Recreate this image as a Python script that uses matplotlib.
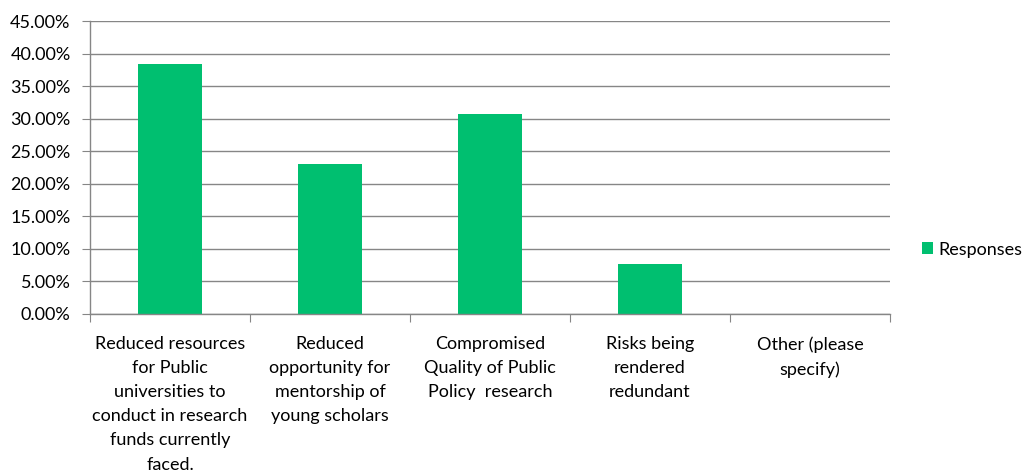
import matplotlib.pyplot as plt
import numpy as np
from matplotlib.ticker import FuncFormatter

categories = [
    'Reduced resources\nfor Public\nuniversities to\nconduct in research\nfunds currently\nfaced.',
    'Reduced\nopportunity for\nmentorship of\nyoung scholars',
    'Compromised\nQuality of Public\nPolicy  research',
    'Risks being\nrendered\nredundant',
    'Other (please\nspecify)',
]
responses = [38.46, 23.08, 30.77, 7.69, 0.0]
series_name = 'Responses'

plt.rcParams['font.family'] = ['Lato', 'DejaVu Sans']
fontsize = 13
grid_col = '#868686'
bar_col = '#00BF70'

fig = plt.figure(figsize=(10.31, 4.76), dpi=100)
ax = fig.add_axes([90 / 1031, 1 - 314 / 476, 800 / 1031, 293 / 476])

x = np.arange(len(categories))
ax.bar(x, responses, width=0.4, color=bar_col, label=series_name, zorder=3)

ax.set_xlim(-0.5, len(categories) - 0.5)
ax.set_ylim(0, 45)
ax.set_yticks(np.arange(0, 46, 5))
ax.yaxis.set_major_formatter(FuncFormatter(lambda v, p: f'{v:.2f}%'))
ax.grid(axis='y', color=grid_col, linewidth=1, zorder=0)

# category boundaries as tick marks
ax.set_xticks(np.arange(-0.5, len(categories), 1), minor=False)
ax.set_xticklabels([''] * (len(categories) + 1))
ax.set_xticks(x, minor=True)
ax.set_xticklabels(categories, minor=True, fontsize=fontsize, linespacing=1.62)
ax.tick_params(axis='x', which='major', length=6, color=grid_col)
ax.tick_params(axis='x', which='minor', length=0, pad=16)
ax.tick_params(axis='y', length=6, color=grid_col, labelsize=fontsize, pad=8)
for lbl in ax.get_xticklabels(minor=True):
    lbl.set_verticalalignment('top')

for s in ['top', 'right']:
    ax.spines[s].set_visible(False)
for s in ['left', 'bottom']:
    ax.spines[s].set_color(grid_col)
    ax.spines[s].set_linewidth(1)
ax.spines['bottom'].set_zorder(4)

ax.legend(loc='center left', bbox_to_anchor=(1.04, 0.22), frameon=False,
          fontsize=fontsize, handlelength=0.6, handleheight=0.6, handletextpad=0.3,
          borderpad=0, borderaxespad=0)

plt.savefig('out.png')
plt.close()
